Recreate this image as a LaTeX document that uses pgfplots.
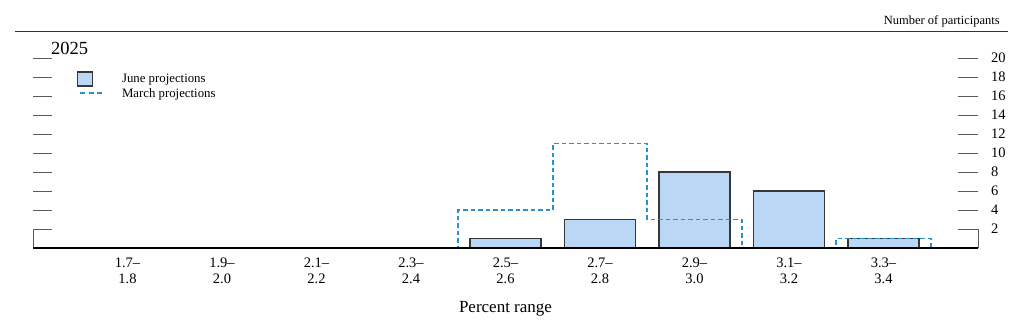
\documentclass[border=0pt]{standalone}
\usepackage{fontspec}
\setmainfont{Liberation Serif}
\usepackage{pgfplots}
\pgfplotsset{compat=1.18}
\definecolor{junefill}{RGB}{186,216,245}
\definecolor{marchblue}{RGB}{40,145,205}
\definecolor{tickgray}{RGB}{90,90,90}
\definecolor{baredge}{RGB}{55,55,55}
\pgfplotsset{
  juneleg/.style={legend image code/.code={\draw[##1] (0pt,-7pt) rectangle (15pt,7pt);}},
  marchleg/.style={legend image code/.code={\draw[##1, line width=1.6pt, dash pattern=on 5pt off 3.5pt] (3pt,0.5pt) -- (26pt,0.5pt);}},
}
\begin{document}
\begin{tikzpicture}[x=1pt,y=1pt]
\useasboundingbox (0,0) rectangle (1024,323);
\draw[line width=1.2pt, black!80] (15,291.5) -- (1008,291.5);
\node[anchor=base east, font=\fontsize{12.5}{14}\selectfont, inner sep=0pt] at (1000,298) {Number of participants};
\node[anchor=base west, font=\fontsize{18.5}{22}\selectfont, inner sep=0pt] at (51,268) {2025};
\begin{axis}[
  at={(33pt,75pt)}, anchor=south west,
  scale only axis, width=945pt, height=190pt,
  xmin=-1, xmax=9, ymin=0, ymax=20,
  axis x line*=bottom, axis y line*=right,
  y axis line style={draw=none},
  x axis line style={line width=2.2pt, black},
  xtick={0,...,8},
  xticklabels={{1.7--\\1.8},{1.9--\\2.0},{2.1--\\2.2},{2.3--\\2.4},{2.5--\\2.6},{2.7--\\2.8},{2.9--\\3.0},{3.1--\\3.2},{3.3--\\3.4}},
  major x tick style={draw=none},
  xticklabel style={font=\fontsize{14.5}{16}\selectfont, align=center, anchor=north, inner sep=0pt, yshift=-10pt},
  ytick={2,4,...,20},
  tick align=inside, major tick length=20pt,
  y tick style={tickgray, line width=0.9pt},
  yticklabel style={font=\fontsize{14.5}{16}\selectfont, anchor=west, inner sep=0pt, xshift=13pt},
  /pgf/number format/assume math mode=true,
  xlabel={Percent range},
  xlabel style={font=\fontsize{17}{20}\selectfont, at={(axis description cs:0.5,0)}, anchor=base, yshift=-65pt, inner sep=0pt},
  clip=false, axis on top,
  legend cell align=left,
  legend style={at={(axis cs:-0.54,18.6)}, anchor=north west, draw=none, fill=none,
    font=\fontsize{12.8}{14}\selectfont, row sep=0.5pt, inner sep=0pt,
    nodes={inner sep=1pt},
    /tikz/every odd column/.append style={column sep=17pt}},
]
\addplot[ybar, bar width=0.75, fill=junefill, draw=baredge, line width=1.2pt, juneleg]
  coordinates {(4,1) (5,3) (6,8) (7,6) (8,1)};
\addlegendentry{June projections}
\addplot[const plot mark mid, color=marchblue, line width=1.6pt, dash pattern=on 4.5pt off 3pt, marchleg]
  coordinates {(3,0) (4,4) (5,11) (6,3) (7,0) (8,1) (9,0)};
\addlegendentry{March projections}
\pgfplotsinvokeforeach{2,4,...,20}{\draw[tickgray, line width=0.9pt] (axis cs:-1,#1) -- (axis cs:-0.8,#1);}
\draw[tickgray, line width=0.9pt] (axis cs:-1,0) -- (axis cs:-1,2);
\draw[tickgray, line width=0.9pt] (axis cs:9,0) -- (axis cs:9,2);
\end{axis}
\end{tikzpicture}
\end{document}
